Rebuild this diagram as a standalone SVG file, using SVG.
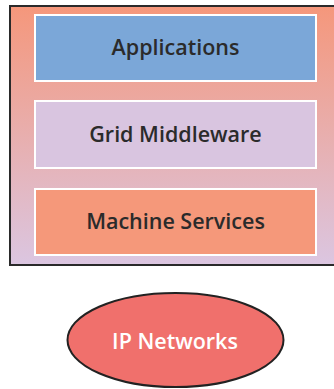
<svg xmlns="http://www.w3.org/2000/svg" width="334" height="389" viewBox="0 0 334 389">
  <defs>
    <linearGradient id="frameFill" x1="0" y1="0" x2="0" y2="1">
      <stop offset="0" stop-color="#f5977b"/>
      <stop offset="1" stop-color="#dbc6e1"/>
    </linearGradient>
  </defs>
  <style>
    .layer { stroke: #ffffff; stroke-width: 2; }
    .label { font-family: "Open Sans", "Noto Sans", sans-serif; font-size: 21.5px; font-weight: 600; text-anchor: middle; }
    .dark { fill: #2b2b2b; }
    .light { fill: #ffffff; }
  </style>

  <!-- stack frame -->
  <g id="stack">
    <rect x="10" y="6" width="330" height="259" fill="url(#frameFill)" stroke="#2a2a2a" stroke-width="2"/>
  </g>

  <g id="applications">
    <rect class="layer" x="35" y="15" width="281" height="66" fill="#7ba7d8"/>
    <text class="label dark" x="175.5" y="55">Applications</text>
  </g>

  <g id="grid-middleware">
    <rect class="layer" x="35" y="101" width="281" height="67" fill="#d9c5e0"/>
    <text class="label dark" x="175.5" y="142">Grid Middleware</text>
  </g>

  <g id="machine-services">
    <rect class="layer" x="35" y="189" width="281" height="66" fill="#f5987a"/>
    <text class="label dark" x="175.5" y="229">Machine Services</text>
  </g>

  <g id="ip-networks">
    <ellipse cx="175.5" cy="340" rx="108" ry="47" fill="#f0706c" stroke="#222222" stroke-width="2"/>
    <text class="label light" x="175" y="349">IP Networks</text>
  </g>

  <g id="connectors"/>
</svg>
